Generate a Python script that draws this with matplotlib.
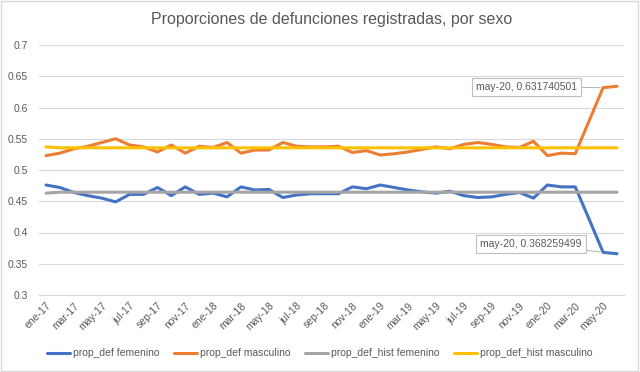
import matplotlib
matplotlib.use("Agg")
import matplotlib.pyplot as plt
from matplotlib.patches import Rectangle

# --- data (ene-17 .. jun-20) ---
meses = ["ene", "feb", "mar", "abr", "may", "jun", "jul", "ago", "sep", "oct", "nov", "dic"]
periodos = [f"{m}-{a}" for a in ("17", "18", "19") for m in meses] + \
           [f"{m}-20" for m in meses[:6]]

prop_fem = [0.476, 0.472, 0.464, 0.459, 0.455, 0.449, 0.461, 0.461, 0.472, 0.459,
            0.473, 0.461, 0.463, 0.457, 0.473, 0.468, 0.469, 0.456, 0.460, 0.462,
            0.462, 0.462, 0.473, 0.470, 0.476, 0.472, 0.468, 0.465, 0.463, 0.466,
            0.459, 0.456, 0.457, 0.461, 0.464, 0.455, 0.476, 0.473, 0.473, 0.421,
            0.368259499, 0.366]
prop_masc = [0.523, 0.527, 0.534, 0.538, 0.544, 0.550, 0.540, 0.537, 0.529, 0.540,
             0.527, 0.538, 0.536, 0.544, 0.527, 0.532, 0.532, 0.544, 0.538, 0.537,
             0.537, 0.538, 0.528, 0.531, 0.524, 0.526, 0.529, 0.533, 0.537, 0.534,
             0.541, 0.544, 0.541, 0.537, 0.536, 0.546, 0.523, 0.527, 0.526, 0.579,
             0.631740501, 0.634]
hist_fem = [0.463] + [0.4645] * 41
hist_masc = [0.537] + [0.5355] * 41

y_ticks = [0.3, 0.35, 0.4, 0.45, 0.5, 0.55, 0.6, 0.65, 0.7]
y_labels = ["0.3", "0.35", "0.4", "0.45", "0.5", "0.55", "0.6", "0.65", "0.7"]

plt.rcParams['font.family'] = ['Liberation Sans', 'DejaVu Sans']
txt = '#595959'

fig = plt.figure(figsize=(6.4, 3.72), dpi=100)
ax = fig.add_axes([0.061, 0.207, 0.914, 0.672])

x = list(range(len(periodos)))
ax.plot(x, prop_fem, color='#4472C4', lw=2.2, label='prop_def femenino', solid_capstyle='round')
ax.plot(x, prop_masc, color='#ED7D31', lw=2.2, label='prop_def masculino', solid_capstyle='round')
ax.plot(x, hist_fem, color='#A5A5A5', lw=2.2, label='prop_def_hist femenino', solid_capstyle='round')
ax.plot(x, hist_masc, color='#FFC000', lw=2.2, label='prop_def_hist masculino', solid_capstyle='round')

ax.set_xlim(-0.5, len(periodos) - 0.5)
ax.set_ylim(0.3, 0.7)
ax.set_yticks(y_ticks)
ax.set_yticklabels(y_labels)
ax.set_xticks(x[::2])
ax.set_xticklabels(periodos[::2], rotation=45, ha='right', rotation_mode='anchor')
ax.tick_params(axis='y', length=0, pad=8, labelsize=7.5, labelcolor=txt)
ax.tick_params(axis='x', length=0, pad=4, labelsize=7.5, labelcolor=txt)

ax.grid(axis='y', color='#d9d9d9', lw=0.8)
ax.set_axisbelow(True)
for s in ('top', 'right', 'left'):
    ax.spines[s].set_visible(False)
ax.spines['bottom'].set_color('#d9d9d9')
ax.spines['bottom'].set_linewidth(0.8)

ax.set_title("Proporciones de defunciones registradas, por sexo",
             fontsize=11.5, color=txt, pad=15)

# data labels for may-20
box = dict(boxstyle='square,pad=0.4', fc='white', ec='#bfbfbf', lw=0.8)
ax.annotate(f"{periodos[40]}, {prop_masc[40]}", xy=(40, prop_masc[40]),
            xytext=(34.5, 0.6325), textcoords='data', ha='center', va='center',
            fontsize=7.5, color=txt, bbox=box,
            arrowprops=dict(arrowstyle='-', color='#a6a6a6', lw=0.6, shrinkA=0, shrinkB=2))
ax.annotate(f"{periodos[40]}, {prop_fem[40]}", xy=(40, prop_fem[40]),
            xytext=(34.8, 0.3815), textcoords='data', ha='center', va='center',
            fontsize=7.5, color=txt, bbox=box,
            arrowprops=dict(arrowstyle='-', color='#a6a6a6', lw=0.6, shrinkA=0, shrinkB=2))

fig.legend(loc='center', bbox_to_anchor=(0.5, 0.05), ncol=4, frameon=False,
           fontsize=7.5, labelcolor=txt, handlelength=2.2, columnspacing=1.4,
           handletextpad=0.3)

fig.patches.append(Rectangle((0.002, 0.003), 0.995, 0.994, transform=fig.transFigure,
                             fill=False, ec='#d9d9d9', lw=1))

fig.savefig("out.png", dpi=100)
